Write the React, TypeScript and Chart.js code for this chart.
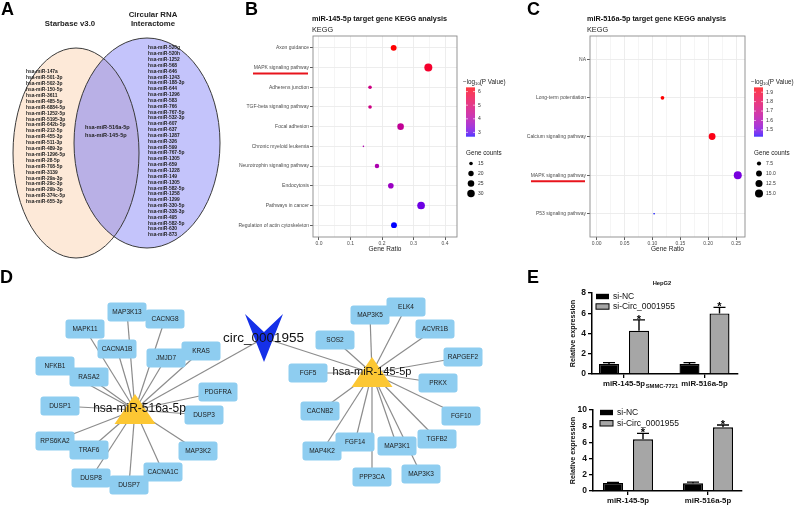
import React, { useEffect, useRef } from 'react';
import { Chart, registerables } from 'chart.js';

Chart.register(...registerables);

const FONT = '"Liberation Sans", Arial, Helvetica, sans-serif';
Chart.defaults.font.family = FONT;

// ================= Panel A : Venn =================
const starbaseOnly = ['hsa-miR-147a', 'hsa-miR-501-3p', 'hsa-miR-502-3p', 'hsa-miR-150-5p', 'hsa-miR-3611', 'hsa-miR-485-5p', 'hsa-miR-6884-5p', 'hsa-miR-1252-5p', 'hsa-miR-5195-3p', 'hsa-miR-642b-5p', 'hsa-miR-212-5p', 'hsa-miR-455-3p', 'hsa-miR-511-3p', 'hsa-miR-489-3p', 'hsa-miR-1296-5p', 'hsa-miR-28-5p', 'hsa-miR-708-5p', 'hsa-miR-3139', 'hsa-miR-29a-3p', 'hsa-miR-29c-3p', 'hsa-miR-29b-3p', 'hsa-miR-374c-5p', 'hsa-miR-655-3p'];
const interactomeOnly = ['hsa-miR-520g', 'hsa-miR-520h', 'hsa-miR-1252', 'hsa-miR-568', 'hsa-miR-646', 'hsa-miR-1243', 'hsa-miR-188-3p', 'hsa-miR-644', 'hsa-miR-1296', 'hsa-miR-583', 'hsa-miR-766', 'hsa-miR-767-5p', 'hsa-miR-532-3p', 'hsa-miR-607', 'hsa-miR-637', 'hsa-miR-1287', 'hsa-miR-326', 'hsa-miR-599', 'hsa-miR-767-5p', 'hsa-miR-1305', 'hsa-miR-659', 'hsa-miR-1228', 'hsa-miR-149', 'hsa-miR-1305', 'hsa-miR-582-5p', 'hsa-miR-1258', 'hsa-miR-1299', 'hsa-miR-330-5p', 'hsa-miR-338-3p', 'hsa-miR-495', 'hsa-miR-582-5p', 'hsa-miR-630', 'hsa-miR-873'];
const sharedMiRs = ['hsa-miR-516a-5p', 'hsa-miR-145-5p'];
const vennSetNames = ['Starbase v3.0', 'Circular RNA', 'Interactome'];

// ================= Panel B =================
const bPathways = ['Axon guidance', 'MAPK signaling pathway', 'Adherens junction', 'TGF-beta signaling pathway', 'Focal adhesion', 'Chronic myeloid leukemia', 'Neurotrophin signaling pathway', 'Endocytosis', 'Pathways in cancer', 'Regulation of actin cytoskeleton'];
const bGeneRatio = [0.237, 0.347, 0.162, 0.162, 0.259, 0.141, 0.184, 0.228, 0.324, 0.238];
const bGeneCount = [22, 33, 15, 15, 25, 13, 17, 21, 31, 22];
const bLogP = [6.3, 5.9, 4.6, 4.6, 4.3, 3.9, 3.9, 3.6, 3.1, 2.7];
const bColorTicks = [3, 4, 5, 6];
const bSizeTicks = [15, 20, 25, 30];

// ================= Panel C =================
const cPathways = ['NA', 'Long-term potentiation', 'Calcium signaling pathway', 'MAPK signaling pathway', 'P53 signaling pathway'];
const cGeneRatio = [null, 0.118, 0.207, 0.253, 0.103];
const cGeneCount = [null, 7, 12, 15, 6];
const cLogP = [null, 1.95, 1.93, 1.5, 1.43];
const cColorTicks = [1.5, 1.6, 1.7, 1.8, 1.9];
const cSizeTicks = [7.5, 10, 12.5, 15];

// ================= Panel D : network =================
const circName = 'circ_0001955';
const hubNames = ['hsa-miR-516a-5p', 'hsa-miR-145-5p'];
const genes516 = ['MAP3K13', 'CACNG8', 'MAPK11', 'CACNA1B', 'JMJD7', 'KRAS', 'NFKB1', 'RASA2', 'PDGFRA', 'DUSP1', 'DUSP3', 'RPS6KA2', 'TRAF6', 'MAP3K2', 'DUSP8', 'DUSP7', 'CACNA1C'];
const genes145 = ['MAP3K5', 'ELK4', 'ACVR1B', 'SOS2', 'RAPGEF2', 'FGF5', 'PRKX', 'CACNB2', 'FGF10', 'TGFB2', 'MAP4K2', 'FGF14', 'MAP3K1', 'PPP3CA', 'MAP3K3'];

// layout of the network (node centres, page pixels)
const circPos = { x: 264, y: 338 };
const hubPos = [{ x: 135, y: 410 }, { x: 372, y: 373 }];
const genes516X = [127, 165, 85, 117, 166, 201, 55, 89, 218, 60, 204, 55, 89, 198, 91, 129, 163];
const genes516Y = [312, 319, 329, 349, 358, 351, 366, 377, 392, 406, 415, 441, 450, 451, 478, 485, 472];
const genes145X = [370, 406, 435, 335, 463, 308, 438, 320, 461, 437, 322, 355, 397, 372, 421];
const genes145Y = [315, 307, 329, 340, 357, 373, 383, 411, 416, 439, 451, 442, 446, 477, 474];

// ================= Panel E =================
const eGroups = ['miR-145-5p', 'miR-516a-5p'];
const eSeries = ['si-NC', 'si-Circ_0001955'];
const hepNC = [1.0, 1.0];
const hepNCErr = [0.12, 0.12];
const hepCirc = [4.28, 5.98];
const hepCircErr = [1.07, 0.6];
const smmcNC = [1.0, 0.95];
const smmcNCErr = [0.05, 0.15];
const smmcCirc = [6.38, 7.86];
const smmcCircErr = [0.74, 0.28];

// ================= colour helpers (Lab gradient blue -> red) =================
function srgbToLab(r: number, g: number, b: number) {
  const lin = (c: number) => { c /= 255; return c <= 0.04045 ? c / 12.92 : Math.pow((c + 0.055) / 1.055, 2.4); };
  const R = lin(r), G = lin(g), B = lin(b);
  const X = (0.4124 * R + 0.3576 * G + 0.1805 * B) / 0.95047;
  const Y = 0.2126 * R + 0.7152 * G + 0.0722 * B;
  const Z = (0.0193 * R + 0.1192 * G + 0.9505 * B) / 1.08883;
  const f = (t: number) => (t > 0.008856 ? Math.cbrt(t) : 7.787 * t + 16 / 116);
  const fx = f(X), fy = f(Y), fz = f(Z);
  return [116 * fy - 16, 500 * (fx - fy), 200 * (fy - fz)];
}
function labToRgb(L: number, a: number, b: number) {
  const fy = (L + 16) / 116, fx = fy + a / 500, fz = fy - b / 200;
  const inv = (t: number) => { const t3 = t * t * t; return t3 > 0.008856 ? t3 : (t - 16 / 116) / 7.787; };
  const X = inv(fx) * 0.95047, Y = inv(fy), Z = inv(fz) * 1.08883;
  const R = 3.2406 * X - 1.5372 * Y - 0.4986 * Z;
  const G = -0.9689 * X + 1.8758 * Y + 0.0415 * Z;
  const B = 0.0557 * X - 0.204 * Y + 1.057 * Z;
  const g = (c: number) => { c = c <= 0.0031308 ? 12.92 * c : 1.055 * Math.pow(c, 1 / 2.4) - 0.055; return Math.round(Math.min(1, Math.max(0, c)) * 255); };
  return `rgb(${g(R)},${g(G)},${g(B)})`;
}
const LOW = srgbToLab(0, 0, 255);
const HIGH = srgbToLab(255, 0, 0);
function gradColor(t: number) {
  t = Math.min(1, Math.max(0, t));
  return labToRgb(LOW[0] + (HIGH[0] - LOW[0]) * t, LOW[1] + (HIGH[1] - LOW[1]) * t, LOW[2] + (HIGH[2] - LOW[2]) * t);
}

// ================= Overlay chart (A, D, panel letters) =================
const vennLeft = { cx: 76, cy: 153, rx: 63, ry: 105 };
const vennRight = { cx: 147, cy: 143, rx: 73, ry: 105 };

function overlayConfig(): any {
  const edgeStyle = { showLine: true, pointRadius: 0, borderColor: '#8c8c8c', borderWidth: 1.2, fill: false };
  const datasets: any[] = [];
  genes516.forEach((_, i) => datasets.push({ ...edgeStyle, data: [{ x: hubPos[0].x, y: hubPos[0].y }, { x: genes516X[i], y: genes516Y[i] }] }));
  genes145.forEach((_, i) => datasets.push({ ...edgeStyle, data: [{ x: hubPos[1].x, y: hubPos[1].y }, { x: genes145X[i], y: genes145Y[i] }] }));
  hubPos.forEach((h) => datasets.push({ ...edgeStyle, data: [{ x: circPos.x, y: circPos.y }, { x: h.x, y: h.y }] }));

  const plugin = {
    id: 'overlayDraw',
    beforeDatasetsDraw(chart: any) {
      const { ctx } = chart;
      const sx = chart.scales.x, sy = chart.scales.y;
      const X = (v: number) => sx.getPixelForValue(v);
      const Y = (v: number) => sy.getPixelForValue(v);
      const ellipse = (e: any) => {
        ctx.beginPath();
        ctx.ellipse(X(e.cx), Y(e.cy), Math.abs(X(e.cx + e.rx) - X(e.cx)), Math.abs(Y(e.cy + e.ry) - Y(e.cy)), 0, 0, Math.PI * 2);
      };
      ctx.save();
      ellipse(vennLeft); ctx.fillStyle = '#fde9d8'; ctx.fill();
      ellipse(vennRight); ctx.fillStyle = '#c4c4fb'; ctx.fill();
      ctx.save(); ellipse(vennLeft); ctx.clip(); ellipse(vennRight); ctx.fillStyle = '#b9b0e6'; ctx.fill(); ctx.restore();
      ctx.strokeStyle = '#3a3a3a'; ctx.lineWidth = 1;
      ellipse(vennLeft); ctx.stroke();
      ellipse(vennRight); ctx.stroke();

      ctx.fillStyle = '#222';
      ctx.textAlign = 'center'; ctx.textBaseline = 'middle';
      ctx.font = `bold 7.8px ${FONT}`;
      ctx.fillText(vennSetNames[0], X(70), Y(24));
      ctx.fillText(vennSetNames[1], X(153), Y(15));
      ctx.fillText(vennSetNames[2], X(153), Y(24));

      ctx.textAlign = 'left';
      ctx.font = `bold 4.9px ${FONT}`;
      starbaseOnly.forEach((t, i) => ctx.fillText(t, X(26), Y(72 + i * 5.9)));
      interactomeOnly.forEach((t, i) => ctx.fillText(t, X(148), Y(48 + i * 5.84)));
      ctx.font = `bold 5.6px ${FONT}`;
      sharedMiRs.forEach((t, i) => ctx.fillText(t, X(85), Y(127 + i * 8)));
      ctx.restore();
    },
    afterDatasetsDraw(chart: any) {
      const { ctx } = chart;
      const sx = chart.scales.x, sy = chart.scales.y;
      const X = (v: number) => sx.getPixelForValue(v);
      const Y = (v: number) => sy.getPixelForValue(v);
      ctx.save();
      const box = (cx: number, cy: number, label: string) => {
        const w = 39, h = 19;
        ctx.beginPath();
        ctx.roundRect(X(cx) - w / 2, Y(cy) - h / 2, w, h, 3);
        ctx.fillStyle = '#8ecdf0';
        ctx.fill();
        ctx.fillStyle = '#1c1c1c';
        ctx.font = `6.5px ${FONT}`;
        ctx.textAlign = 'center'; ctx.textBaseline = 'middle';
        ctx.fillText(label, X(cx), Y(cy) + 0.5);
      };
      genes516.forEach((g, i) => box(genes516X[i], genes516Y[i], g));
      genes145.forEach((g, i) => box(genes145X[i], genes145Y[i], g));

      // triangles for miRNAs
      hubPos.forEach((h) => {
        ctx.beginPath();
        ctx.moveTo(X(h.x), Y(h.y - 16));
        ctx.lineTo(X(h.x + 20.5), Y(h.y + 14));
        ctx.lineTo(X(h.x - 20.5), Y(h.y + 14));
        ctx.closePath();
        ctx.fillStyle = '#fcc733';
        ctx.fill();
      });
      // chevron for circRNA
      ctx.beginPath();
      ctx.moveTo(X(circPos.x - 19), Y(circPos.y - 24));
      ctx.lineTo(X(circPos.x), Y(circPos.y - 6));
      ctx.lineTo(X(circPos.x + 19), Y(circPos.y - 24));
      ctx.lineTo(X(circPos.x), Y(circPos.y + 24));
      ctx.closePath();
      ctx.fillStyle = '#1530e8';
      ctx.fill();

      ctx.fillStyle = '#111';
      ctx.textAlign = 'center'; ctx.textBaseline = 'middle';
      ctx.font = `12px ${FONT}`;
      ctx.fillText(hubNames[0], X(139.5), Y(409));
      ctx.font = `11px ${FONT}`;
      ctx.fillText(hubNames[1], X(372), Y(372));
      ctx.font = `13.5px ${FONT}`;
      ctx.fillText(circName, X(263.5), Y(338));

      // panel letters
      ctx.fillStyle = '#000';
      ctx.textAlign = 'left'; ctx.textBaseline = 'alphabetic';
      ctx.font = `bold 18px ${FONT}`;
      ctx.fillText('A', X(1), Y(15));
      ctx.fillText('B', X(245), Y(15));
      ctx.fillText('C', X(527), Y(15));
      ctx.fillText('D', X(0), Y(283));
      ctx.fillText('E', X(527), Y(283));
      ctx.restore();
    },
  };

  return {
    type: 'scatter',
    data: { datasets },
    options: {
      animation: false, responsive: false, devicePixelRatio: 1, events: [],
      layout: { padding: 0 },
      plugins: { legend: { display: false }, tooltip: { enabled: false } },
      scales: {
        x: { type: 'linear', min: 0, max: 798, display: false },
        y: { type: 'linear', min: 0, max: 505, reverse: true, display: false },
      },
    },
    plugins: [plugin],
  };
}

// ================= Bubble (KEGG) panels =================
function bubbleConfig(p: any): any {
  const n = p.cats.length;
  const size = (c: number) => 0.8 + 3.2 * Math.sqrt(Math.max(0, (c - p.cMin) / (p.cMax - p.cMin)));
  const col = (v: number) => gradColor((v - p.pMin) / (p.pMax - p.pMin));
  const pts: any[] = [];
  const colors: string[] = [];
  p.cats.forEach((_: any, i: number) => {
    if (p.ratio[i] == null) return;
    pts.push({ x: p.ratio[i], y: i, r: size(p.count[i]) });
    colors.push(col(p.logp[i]));
  });
  const isMajor = (v: number) => Math.abs(v / p.xMajor - Math.round(v / p.xMajor)) < 1e-6;

  const plugin = {
    id: 'bubbleDeco',
    afterDraw(chart: any) {
      const { ctx, chartArea: a } = chart;
      const sy = chart.scales.y;
      ctx.save();
      ctx.strokeStyle = '#8a8a8a'; ctx.lineWidth = 0.9;
      ctx.strokeRect(a.left, a.top, a.right - a.left, a.bottom - a.top);

      ctx.fillStyle = '#111';
      ctx.textAlign = 'left'; ctx.textBaseline = 'alphabetic';
      ctx.font = `bold 7.3px ${FONT}`;
      ctx.fillText(p.title, p.titleX, 21);
      ctx.font = `7.3px ${FONT}`;
      ctx.fillStyle = '#222';
      ctx.fillText('KEGG', p.titleX, 32);

      // red underline
      const uy = sy.getPixelForValue(p.underlineIdx) + 6;
      ctx.strokeStyle = '#e8141c'; ctx.lineWidth = 2;
      ctx.beginPath(); ctx.moveTo(p.ulX0, uy); ctx.lineTo(p.ulX1, uy); ctx.stroke();

      // colour bar legend
      const lx = a.right + 9;
      ctx.fillStyle = '#222';
      ctx.font = `6.3px ${FONT}`;
      ctx.textBaseline = 'middle';
      let tx = lx - 3;
      ctx.fillText('\u2212log', tx, 82); tx += ctx.measureText('\u2212log').width;
      ctx.font = `4.2px ${FONT}`;
      ctx.fillText('10', tx, 84); tx += ctx.measureText('10').width;
      ctx.font = `6.3px ${FONT}`;
      ctx.fillText('(P Value)', tx, 82);
      const top = 87.5, bot = 136.5, bw = 9;
      for (let yy = top; yy < bot; yy += 1) {
        const v = p.pMax - ((yy + 0.5 - top) / (bot - top)) * (p.pMax - p.pMin);
        ctx.fillStyle = col(v);
        ctx.fillRect(lx, yy, bw, 1.05);
      }
      ctx.strokeStyle = '#fff'; ctx.lineWidth = 0.6;
      ctx.fillStyle = '#333';
      ctx.font = `5px ${FONT}`;
      p.colorTicks.forEach((v: number) => {
        const yy = top + ((p.pMax - v) / (p.pMax - p.pMin)) * (bot - top);
        ctx.beginPath(); ctx.moveTo(lx, yy); ctx.lineTo(lx + 2, yy); ctx.moveTo(lx + bw - 2, yy); ctx.lineTo(lx + bw, yy); ctx.stroke();
        ctx.fillText(v.toFixed(p.colorDigits), lx + bw + 3, yy);
      });

      // size legend
      ctx.fillStyle = '#222';
      ctx.font = `6.3px ${FONT}`;
      ctx.fillText('Gene counts', lx, 153);
      p.sizeTicks.forEach((v: number, i: number) => {
        const yy = 163.5 + i * 10;
        ctx.fillStyle = '#000';
        ctx.beginPath(); ctx.arc(lx + 5, yy, size(v), 0, Math.PI * 2); ctx.fill();
        ctx.fillStyle = '#333';
        ctx.font = `5px ${FONT}`;
        ctx.fillText(v.toFixed(p.sizeDigits), lx + 12, yy);
      });
      ctx.restore();
    },
  };

  const xTicks: any[] = [];
  for (let k = 0; k * p.xStep <= p.xMax + 1e-9; k++) xTicks.push({ value: Math.round(k * p.xStep * 1e6) / 1e6 });
  const yTicks: any[] = [];
  for (let i = 0; i < n; i++) yTicks.push({ value: i });

  return {
    type: 'bubble',
    data: { datasets: [{ data: pts, backgroundColor: colors, borderWidth: 0 }] },
    options: {
      animation: false, responsive: false, devicePixelRatio: 1, events: [],
      layout: { padding: { left: 0, top: 36, right: p.padRight, bottom: 0 } },
      plugins: { legend: { display: false }, tooltip: { enabled: false } },
      scales: {
        x: {
          type: 'linear', min: p.xMin, max: p.xMax,
          afterBuildTicks: (s: any) => { s.ticks = xTicks.map((t) => ({ ...t })); },
          afterFit: (s: any) => { s.height = 18; },
          ticks: { callback: (v: number) => (isMajor(v) ? v.toFixed(p.xDigits) : ''), font: { size: 5 }, color: '#4d4d4d', padding: 1, autoSkip: false, maxRotation: 0 },
          grid: {
            color: '#ebebeb', tickLength: 3, tickWidth: 0.8,
            lineWidth: (c: any) => (c.tick && isMajor(c.tick.value) ? 0.9 : 0.5),
            tickColor: (c: any) => (c.tick && isMajor(c.tick.value) ? '#333' : 'rgba(0,0,0,0)'),
          },
          border: { display: false },
          title: { display: true, text: 'Gene Ratio', font: { size: 6.5 }, color: '#222', padding: 2 },
        },
        y: {
          type: 'linear', min: -0.6, max: n - 0.4, reverse: true,
          afterBuildTicks: (s: any) => { s.ticks = yTicks.map((t) => ({ ...t })); },
          afterFit: (s: any) => { s.width = p.yW; },
          ticks: { callback: (v: number) => p.cats[v], font: { size: 5 }, color: '#4d4d4d', padding: 1, autoSkip: false },
          grid: { color: '#ebebeb', lineWidth: 0.9, tickLength: 3, tickWidth: 0.8, tickColor: '#333' },
          border: { display: false },
        },
      },
    },
    plugins: [plugin],
  };
}

// ================= Bar panels (E) =================
function barConfig(p: any): any {
  const plugin = {
    id: 'barDeco',
    afterDatasetsDraw(chart: any) {
      const { ctx } = chart;
      const sy = chart.scales.y;
      ctx.save();
      ctx.strokeStyle = '#000'; ctx.lineWidth = 1.4;
      const sets = [[p.nc, p.ncErr, false], [p.circ, p.circErr, true]];
      sets.forEach((s: any, di: number) => {
        const meta = chart.getDatasetMeta(di);
        s[0].forEach((v: number, j: number) => {
          const bx = meta.data[j].x;
          const y0 = sy.getPixelForValue(v);
          const y1 = sy.getPixelForValue(v + s[1][j]);
          ctx.beginPath();
          ctx.moveTo(bx, y0); ctx.lineTo(bx, y1);
          ctx.moveTo(bx - 6, y1); ctx.lineTo(bx + 6, y1);
          ctx.stroke();
          if (s[2]) {
            ctx.fillStyle = '#000';
            ctx.font = `bold 11px ${FONT}`;
            ctx.textAlign = 'center'; ctx.textBaseline = 'alphabetic';
            ctx.fillText('*', bx, y1 + 3);
          }
        });
      });
      // legend
      ctx.fillStyle = '#000';
      ctx.fillRect(p.legX, p.legY[0] - 2.7, 13, 5.4);
      ctx.fillStyle = '#a6a6a6';
      ctx.fillRect(p.legX, p.legY[1] - 2.7, 13, 5.4);
      ctx.lineWidth = 1; ctx.strokeStyle = '#000';
      ctx.strokeRect(p.legX, p.legY[1] - 2.7, 13, 5.4);
      ctx.fillStyle = '#111';
      ctx.font = `8.5px ${FONT}`;
      ctx.textAlign = 'left'; ctx.textBaseline = 'middle';
      ctx.fillText(eSeries[0], p.legX + 17, p.legY[0]);
      ctx.fillText(eSeries[1], p.legX + 17, p.legY[1]);
      // title
      ctx.font = `bold 5.8px ${FONT}`;
      ctx.textAlign = 'center';
      ctx.fillText(p.title, 102, p.titleY);
      ctx.restore();
    },
  };
  const catPct = 60 / p.ppu;
  return {
    type: 'bar',
    data: {
      datasets: [
        { label: eSeries[0], data: p.nc.map((v: number, i: number) => ({ x: i, y: v })), backgroundColor: '#000', borderColor: '#000', borderWidth: 1.4, barPercentage: 2 / 3, categoryPercentage: catPct },
        { label: eSeries[1], data: p.circ.map((v: number, i: number) => ({ x: i, y: v })), backgroundColor: '#a6a6a6', borderColor: '#000', borderWidth: 1.4, barPercentage: 2 / 3, categoryPercentage: catPct },
      ],
    },
    options: {
      animation: false, responsive: false, devicePixelRatio: 1, events: [],
      layout: { padding: { left: 0, top: p.padTop, right: p.padRight, bottom: 0 } },
      plugins: { legend: { display: false }, tooltip: { enabled: false } },
      scales: {
        x: {
          type: 'linear', min: p.xMin, max: p.xMax, offset: false,
          afterBuildTicks: (s: any) => { s.ticks = [{ value: 0 }, { value: 1 }]; },
          afterFit: (s: any) => { s.height = p.xH; },
          ticks: { callback: (v: number) => eGroups[v] ?? '', font: { size: 7.8, weight: 'bold' }, color: '#111', padding: 1, autoSkip: false, maxRotation: 0 },
          grid: { offset: false, drawOnChartArea: false, color: '#000', lineWidth: 1.3, tickLength: 4 },
          border: { display: true, color: '#000', width: 1.5 },
        },
        y: {
          type: 'linear', min: 0, max: p.yMax,
          afterFit: (s: any) => { s.width = p.yW; },
          ticks: { stepSize: 2, font: { size: 8.5, weight: 'bold' }, color: '#111', padding: 2 },
          grid: { drawOnChartArea: false, color: '#000', lineWidth: 1.3, tickLength: 4 },
          border: { display: true, color: '#000', width: 1.5 },
          title: { display: true, text: 'Relative expression', font: { size: 7.2, weight: 'bold' }, color: '#111', padding: 9 },
        },
      },
    },
    plugins: [plugin],
  };
}

const panels = [
  { left: 0, top: 0, w: 798, h: 505, cfg: () => overlayConfig() },
  {
    left: 230, top: 0, w: 285, h: 255,
    cfg: () => bubbleConfig({
      cats: bPathways, ratio: bGeneRatio, count: bGeneCount, logp: bLogP,
      xMin: -0.019, xMax: 0.438, xStep: 0.05, xMajor: 0.1, xDigits: 1,
      yW: 83, padRight: 58, title: 'miR-145-5p target gene KEGG analysis', titleX: 82,
      pMin: 2.7, pMax: 6.3, colorTicks: bColorTicks, colorDigits: 0,
      cMin: 13, cMax: 33, sizeTicks: bSizeTicks, sizeDigits: 0,
      underlineIdx: 1, ulX0: 23, ulX1: 78,
    }),
  },
  {
    left: 510, top: 0, w: 288, h: 255,
    cfg: () => bubbleConfig({
      cats: cPathways, ratio: cGeneRatio, count: cGeneCount, logp: cLogP,
      xMin: -0.012, xMax: 0.266, xStep: 0.025, xMajor: 0.05, xDigits: 2,
      yW: 80, padRight: 53, title: 'miR-516a-5p target gene KEGG analysis', titleX: 77,
      pMin: 1.43, pMax: 1.95, colorTicks: cColorTicks, colorDigits: 1,
      cMin: 6, cMax: 15, sizeTicks: cSizeTicks, sizeDigits: 1,
      underlineIdx: 3, ulX0: 21, ulX1: 75,
    }),
  },
  {
    left: 560, top: 270, w: 238, h: 120,
    cfg: () => barConfig({
      title: 'HepG2', titleY: 13, nc: hepNC, ncErr: hepNCErr, circ: hepCirc, circErr: hepCircErr,
      yMax: 8, padTop: 23, padRight: 60, yW: 32, xH: 16, ppu: 80.5,
      xMin: -32 / 80.5, xMax: -32 / 80.5 + 146 / 80.5, legX: 36, legY: [26.5, 36.5],
    }),
  },
  {
    left: 560, top: 380, w: 238, h: 125,
    cfg: () => barConfig({
      title: 'SMMC-7721', titleY: 6, nc: smmcNC, ncErr: smmcNCErr, circ: smmcCirc, circErr: smmcCircErr,
      yMax: 10, padTop: 30, padRight: 56, yW: 33, xH: 14, ppu: 80,
      xMin: -35 / 80, xMax: -35 / 80 + 149 / 80, legX: 40, legY: [32.5, 43.3],
    }),
  },
];

export default function App() {
  const refs = [useRef<HTMLCanvasElement>(null), useRef<HTMLCanvasElement>(null), useRef<HTMLCanvasElement>(null), useRef<HTMLCanvasElement>(null), useRef<HTMLCanvasElement>(null)];
  useEffect(() => {
    const charts = panels.map((p, i) => new Chart(refs[i].current as HTMLCanvasElement, p.cfg()));
    return () => charts.forEach((c) => c.destroy());
  }, []);
  return (
    <div style={{ position: 'absolute', left: 0, top: 0, width: 798, height: 505, background: '#fff', overflow: 'hidden' }}>
      {panels.map((p, i) => (
        <canvas
          key={i}
          ref={refs[i]}
          width={p.w}
          height={p.h}
          style={{ position: 'absolute', left: p.left, top: p.top, width: p.w, height: p.h }}
        />
      ))}
    </div>
  );
}
